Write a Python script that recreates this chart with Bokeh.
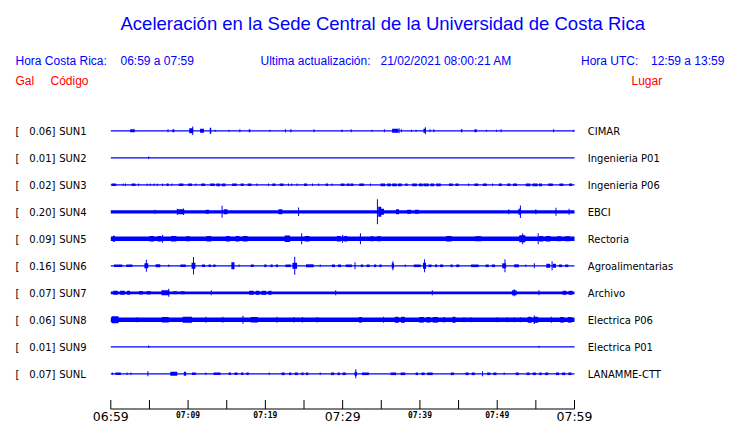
from bokeh.plotting import figure
from bokeh.models import ColumnDataSource, Range1d
from bokeh.core.properties import value
from bokeh.embed import file_html
from bokeh.resources import INLINE

# ---------------- data ----------------
TITLE = "Aceleración en la Sede Central de la Universidad de Costa Rica"
CR_LABEL = "Hora Costa Rica:"
CR_TIME = "06:59 a 07:59"
UPD_LABEL = "Ultima actualización:"
UPD_TIME = "21/02/2021 08:00:21 AM"
UTC_LABEL = "Hora UTC:"
UTC_TIME = "12:59 a 13:59"
HEAD_GAL, HEAD_CODE, HEAD_PLACE = "Gal", "Código", "Lugar"

codes = ["SUN1", "SUN2", "SUN3", "SUN4", "SUN5", "SUN6", "SUN7", "SUN8", "SUN9", "SUNL"]
gal = ["0.06", "0.01", "0.02", "0.20", "0.09", "0.16", "0.07", "0.06", "0.01", "0.07"]
places = ["CIMAR", "Ingenieria P01", "Ingenieria P06", "EBCI", "Rectoria",
          "Agroalimentarias", "Archivo", "Electrica P06", "Electrica P01", "LANAMME-CTT"]
# continuous background noise band of each trace (px peak-to-peak)
noise = [1.2, 1.2, 1.2, 3.3, 4.4, 1.2, 2.8, 4.6, 1.2, 1.2]

# time axis (minutes after 06:59)
tick_minutes = [0, 5, 10, 15, 20, 25, 30, 35, 40, 45, 50, 55, 60]
big_tick_min = [0, 30, 60]
big_tick_lbl = ["06:59", "07:29", "07:59"]
small_tick_min = [10, 20, 40, 50]
small_tick_lbl = ["07:09", "07:19", "07:39", "07:49"]

# bursts per station: (minute, duration in minutes, half amplitude px)
EV_SUN1 = [(2.8, 0.6, 1.5), (7.4, 0.13, 1.5), (8.1, 0.25, 1.5), (10.4, 0.5, 2.5), (10.6, 0.13, 4.3),
           (11.8, 0.5, 2), (12.9, 0.2, 3), (13.5, 0.13, 1), (15.3, 0.13, 1), (16.7, 0.13, 1.5),
           (17.95, 0.2, 1.5), (20.6, 0.13, 1), (22.6, 0.13, 1.5), (23.3, 0.15, 1.5), (26.3, 0.13, 1.5),
           (29.9, 0.2, 1), (31.1, 0.13, 1.5), (33.8, 0.13, 1), (35.4, 0.13, 1.5), (36.8, 0.8, 2),
           (37.3, 0.13, 2.5), (37.6, 0.13, 1.5), (38.9, 0.13, 1), (39.5, 0.13, 1), (40.6, 0.3, 2),
           (40.7, 0.13, 3.5), (41.3, 0.13, 1.5), (41.8, 0.13, 1.5), (45.4, 0.2, 1.5), (47.2, 0.3, 1.5),
           (48.6, 0.13, 1), (49.9, 0.13, 1), (50.5, 0.13, 1.5), (57.3, 0.13, 1.5), (59.9, 0.13, 1)]
EV_SUN2 = [(4.9, 0.13, 1.2)]
EV_SUN3 = [(0.4, 0.6, 1.3), (1.6, 0.13, 1.3), (1.9, 0.13, 1.3), (2.95, 0.5, 1.3), (3.6, 0.13, 1.3),
           (4.7, 0.13, 1.3), (5.1, 0.13, 1.3), (5.6, 0.13, 1.3), (6.0, 0.13, 1.3), (6.7, 0.13, 1.3),
           (7.35, 0.3, 1.3), (7.9, 0.13, 1.3), (9.1, 0.6, 1.3), (10.25, 0.5, 1.3), (11.0, 0.13, 1.3),
           (11.95, 0.5, 1.3), (13.15, 0.6, 1.3), (13.9, 0.5, 1.4), (14.6, 0.5, 1.4), (16.0, 0.6, 1.3),
           (17.0, 0.4, 1.3), (17.95, 0.5, 1.3), (18.9, 0.13, 1.3), (20.4, 0.13, 1.3), (21.1, 0.4, 1.3),
           (22.1, 0.5, 1.3), (23.0, 0.13, 1.3), (23.4, 0.13, 1.3), (24.1, 0.13, 1.3), (25.2, 0.4, 1.3),
           (26.1, 0.13, 1.3), (26.9, 0.13, 1.3), (27.95, 0.3, 1.3), (28.6, 0.13, 1.3), (30.0, 0.5, 1.3),
           (30.7, 0.4, 1.3), (31.2, 0.4, 1.3), (32.45, 0.6, 1.3), (33.6, 0.13, 1.3), (35.2, 0.6, 1.4),
           (36.0, 0.5, 1.4), (36.7, 0.6, 1.4), (37.4, 0.5, 1.4), (38.25, 0.3, 1.3), (39.3, 0.6, 1.4),
           (40.1, 0.5, 1.4), (40.8, 0.7, 1.4), (41.6, 0.5, 1.4), (42.4, 0.6, 1.4), (44.0, 0.5, 1.3),
           (44.8, 0.4, 1.3), (46.3, 0.13, 1.3), (47.3, 0.5, 1.3), (48.4, 0.5, 1.3), (49.4, 0.13, 1.3),
           (50.4, 0.4, 1.3), (51.5, 0.4, 1.3), (52.3, 0.5, 1.3), (54.0, 0.6, 1.4), (54.9, 0.7, 1.4),
           (55.6, 0.4, 1.4), (56.9, 0.6, 1.3), (58.3, 0.5, 1.3), (59.5, 0.4, 1.3)]
EV_SUN4 = [(5.7, 0.13, 2), (8.6, 0.13, 3), (9.05, 0.9, 2.5), (9.4, 0.13, 3.3), (12.5, 0.4, 2),
           (14.4, 0.13, 6), (14.85, 0.5, 2.5), (21.95, 0.5, 2.5), (24.3, 0.13, 4.3), (34.5, 0.13, 12.5),
           (34.8, 0.4, 5), (35.1, 0.5, 3), (37.1, 0.4, 2.5), (38.6, 0.5, 2), (39.6, 0.5, 2),
           (51.5, 0.13, 2.5), (53.0, 0.13, 6.3), (52.9, 0.3, 3), (55.0, 0.13, 2.5), (57.6, 0.13, 4),
           (59.3, 0.13, 3)]
EV_SUN5 = [(0.4, 0.3, 3), (5.3, 0.6, 2.8), (6.3, 0.5, 2.8), (6.7, 0.13, 4), (8.15, 0.7, 2.8),
           (10.0, 0.5, 2.5), (12.7, 0.6, 2.8), (15.15, 0.5, 2.8), (16.4, 0.5, 2.8), (17.4, 0.6, 2.8),
           (22.85, 0.7, 3.2), (24.7, 0.13, 5.5), (25.4, 0.6, 2.8), (29.5, 0.5, 2.8), (30.0, 0.13, 4),
           (30.4, 0.4, 2.8), (32.3, 0.13, 5.5), (33.8, 0.4, 2.5), (34.7, 0.5, 2.5), (43.75, 0.7, 2.8),
           (47.55, 0.8, 2.5), (53.25, 0.8, 3.5), (53.3, 0.13, 5.5), (55.3, 0.13, 5.5), (55.7, 0.5, 2.8),
           (56.6, 0.6, 2.8), (58.0, 0.5, 2.5), (59.1, 0.6, 2.5)]
EV_SUN6 = [(0.95, 1.1, 1.3), (2.4, 0.8, 1.3), (4.6, 0.5, 2.5), (4.6, 0.13, 6), (6.1, 0.6, 1.5),
           (7.5, 0.13, 1.3), (9.35, 0.7, 1.3), (10.7, 0.5, 3), (10.7, 0.13, 8.7), (12.0, 0.4, 1.3),
           (12.8, 0.3, 1.3), (13.4, 0.3, 1.3), (15.8, 0.4, 3.5), (16.6, 0.13, 1.3), (18.3, 0.4, 1.3),
           (20.0, 0.3, 1.3), (20.8, 0.3, 1.3), (21.5, 0.3, 1.3), (22.95, 0.7, 1.3), (23.8, 0.6, 3),
           (23.8, 0.13, 9), (25.75, 1.0, 1.5), (27.1, 0.13, 1.3), (28.8, 0.4, 1.3), (29.6, 0.4, 1.3),
           (30.8, 0.8, 1.3), (31.6, 0.13, 3.5), (32.5, 0.3, 1.3), (33.3, 0.4, 1.3), (34.2, 0.3, 1.3),
           (34.9, 0.3, 1.3), (36.5, 0.3, 2.5), (36.5, 0.13, 4.5), (38.1, 0.13, 1.3), (39.65, 0.9, 1.3),
           (40.6, 0.4, 3), (40.6, 0.13, 6.5), (41.3, 0.4, 1.3), (42.1, 0.3, 1.3), (42.8, 0.4, 1.3),
           (44.1, 0.3, 1.3), (44.9, 0.4, 1.3), (47.1, 1.0, 1.3), (48.7, 0.4, 1.3), (49.5, 0.4, 1.3),
           (50.9, 0.5, 2.5), (51.0, 0.13, 6.5), (52.5, 0.6, 1.5), (53.7, 0.13, 1.3), (54.8, 0.13, 2.5),
           (56.6, 0.5, 2), (57.1, 0.13, 4.5), (57.4, 0.4, 2), (58.2, 0.4, 1.3), (59.0, 0.4, 1.3)]
EV_SUN7 = [(0.6, 0.6, 2), (1.5, 0.6, 2), (2.3, 0.4, 2), (3.9, 0.5, 1.8), (4.9, 0.5, 1.8),
           (7.05, 1.0, 2.5), (7.5, 0.13, 4), (8.3, 0.5, 1.5), (9.3, 0.5, 1.5), (13.0, 0.13, 2.5),
           (18.2, 0.6, 2), (19.0, 0.5, 2), (19.8, 0.6, 2), (20.6, 0.4, 2), (29.1, 0.13, 2.5),
           (41.6, 0.13, 2.5), (52.2, 0.13, 3.5), (52.2, 0.6, 2.5), (55.4, 0.13, 2.5), (58.7, 0.5, 2),
           (59.5, 0.5, 2)]
EV_SUN8 = [(0.55, 0.9, 3.5), (3.4, 0.13, 2.5), (7.05, 0.9, 2.8), (9.9, 1.2, 3), (12.3, 0.13, 3),
           (14.5, 0.13, 3), (17.1, 0.13, 4), (18.55, 0.9, 2.8), (21.5, 0.13, 3), (23.7, 0.13, 2.8),
           (24.8, 0.13, 2.8), (26.7, 0.13, 2.8), (32.3, 0.4, 2.8), (35.3, 0.13, 3), (37.0, 0.5, 3),
           (37.8, 0.5, 3), (40.2, 0.6, 2.8), (41.1, 0.5, 2.8), (42.0, 0.7, 2.8), (43.15, 0.3, 2.5),
           (44.4, 0.4, 3), (45.7, 0.13, 2.5), (46.6, 0.13, 2.5), (50.0, 0.13, 2.5), (51.3, 0.13, 2.5),
           (52.2, 0.13, 2.5), (53.0, 0.13, 2.5), (54.2, 0.5, 3), (54.8, 0.13, 4.3), (55.0, 0.6, 3),
           (57.0, 0.13, 3), (58.4, 0.5, 2.8), (59.4, 0.5, 2.8)]
EV_SUN9 = [(4.9, 0.13, 1.3), (55.4, 0.13, 1.0)]
EV_SUNL = [(0.2, 0.13, 1.3), (0.95, 0.7, 1.3), (2.1, 0.13, 1.3), (2.6, 0.13, 1.3), (4.8, 0.13, 2.5),
           (8.15, 0.9, 2), (9.6, 0.3, 2), (10.75, 0.5, 1.3), (12.3, 0.13, 1.3), (13.75, 0.9, 1.3),
           (15.4, 0.3, 1.3), (16.2, 0.4, 1.3), (17.0, 0.3, 1.3), (17.7, 0.3, 1.3), (20.5, 0.13, 1.3),
           (22.3, 0.4, 1.3), (23.2, 0.3, 1.3), (24.0, 0.4, 1.3), (24.8, 0.3, 1.3), (25.4, 0.3, 1.3),
           (27.1, 0.13, 1.3), (28.7, 0.4, 1.3), (29.5, 0.3, 1.3), (30.2, 0.4, 1.3), (31.7, 0.3, 2),
           (31.7, 0.13, 4.5), (32.95, 0.9, 1.3), (36.55, 0.7, 1.3), (37.8, 0.6, 1.3), (39.6, 0.3, 1.3),
           (40.4, 0.4, 1.3), (41.3, 0.7, 1.3), (44.2, 0.4, 1.3), (46.1, 0.4, 1.3), (46.9, 0.4, 1.3),
           (48.1, 0.13, 2.5), (48.9, 0.4, 1.3), (49.7, 0.4, 1.3), (50.9, 0.13, 1.3), (52.6, 0.4, 1.3),
           (54.0, 0.4, 1.3), (54.8, 0.4, 1.3), (55.6, 0.3, 1.3), (56.4, 0.4, 1.3), (57.8, 0.4, 1.3),
           (58.6, 0.4, 1.3), (59.4, 0.4, 1.3)]
events = [EV_SUN1, EV_SUN2, EV_SUN3, EV_SUN4, EV_SUN5, EV_SUN6, EV_SUN7, EV_SUN8, EV_SUN9, EV_SUNL]

# ---------------- geometry (picture pixels) ----------------
W, H = 740, 423
X0, PXM = 110.3, 463.7 / 60.0      # pixel of 06:59, pixels per minute
Y0, ROW = 130.3, 27.0              # pixel of first trace, trace spacing


def fx(ix):
    return (ix - X0) / PXM


def fy(iy):
    return (iy - Y0) / ROW


BLUE, RED, BLACK = "#0000ff", "#ff0000", "#000000"

p = figure(width=W, height=H,
           x_range=Range1d(fx(0), fx(W)),
           y_range=Range1d(fy(H), fy(0)),
           output_backend="svg", toolbar_location=None, min_border=0,
           x_axis_location=None, y_axis_location=None)
p.grid.visible = False
p.outline_line_color = None
p.background_fill_color = "white"
p.border_fill_color = "white"

rows = list(range(len(codes)))

# traces: noise band
p.segment(source=ColumnDataSource(dict(x0=[0] * len(rows), x1=[60] * len(rows), y=rows, lw=noise)),
          x0="x0", y0="y", x1="x1", y1="y", line_width="lw", line_color=BLUE, line_cap="butt")

# traces: bursts
L, R, T, B = [], [], [], []
for r, ev in zip(rows, events):
    for t, d, a in ev:
        L.append(t - d / 2)
        R.append(t + d / 2)
        T.append(r - a / ROW)
        B.append(r + a / ROW)
p.quad(left=L, right=R, top=T, bottom=B, fill_color=BLUE, line_color=None)


def txt(xs, ys, texts, font, size, color, align="left", baseline="alphabetic", style="normal"):
    p.text(x=xs, y=ys, text=texts, text_font=value(font), text_font_size=value(size),
           text_color=color, text_align=align, text_baseline=baseline, text_font_style=style)


# header
txt([fx(120)], [fy(23)], [TITLE], "Liberation Sans", "18.5px", BLUE)
txt([fx(15), fx(120), fx(260), fx(380), fx(580.5), fx(650.5)], [fy(60)] * 6,
    [CR_LABEL, CR_TIME, UPD_LABEL, UPD_TIME, UTC_LABEL, UTC_TIME], "Liberation Sans", "12px", BLUE)
txt([fx(15), fx(50), fx(631)], [fy(80.5)] * 3, [HEAD_GAL, HEAD_CODE, HEAD_PLACE],
    "Liberation Sans", "12px", RED)

# station labels
lab_y = [r + (131.3 - Y0) / ROW for r in rows]
txt([fx(15)] * len(rows), lab_y, ["["] * len(rows), "DejaVu Sans", "10px", BLACK)
txt([fx(55)] * len(rows), lab_y, [g + "]" for g in gal], "DejaVu Sans", "10px", BLACK, align="right")
txt([fx(58.7)] * len(rows), lab_y, codes, "DejaVu Sans", "10px", BLACK)
txt([fx(587.3)] * len(rows), lab_y, places, "DejaVu Sans", "10px", BLACK)

# time axis
AX_Y = 408.5
p.segment(x0=[0], y0=[fy(AX_Y)], x1=[60], y1=[fy(AX_Y)], line_color=BLACK, line_width=1)
p.segment(x0=tick_minutes, y0=[fy(AX_Y - 9)] * len(tick_minutes),
          x1=tick_minutes, y1=[fy(AX_Y)] * len(tick_minutes), line_color=BLACK, line_width=1)
txt(big_tick_min, [fy(415.5)] * len(big_tick_min), big_tick_lbl, "DejaVu Sans", "12.5px", BLACK,
    align="center")
txt(small_tick_min, [fy(414.5)] * len(small_tick_min), small_tick_lbl, "DejaVu Sans Mono", "8px", BLACK,
    align="center", style="bold")

open("out.html", "w").write(file_html(p, INLINE))
